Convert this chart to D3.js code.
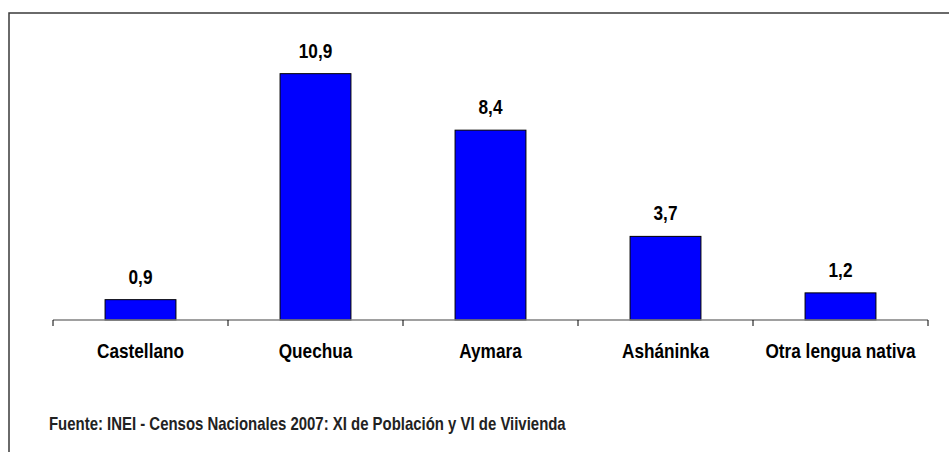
<!DOCTYPE html>
<html>
<head>
<meta charset="utf-8">
<script src="https://cdn.jsdelivr.net/npm/d3@7"></script>
<style>
  body { margin: 0; background: #fff; }
  text { font-family: "Liberation Sans Narrow", "Arial Narrow", "Liberation Sans", sans-serif; font-weight: bold; fill: #000; }
</style>
</head>
<body>
<svg id="chart" width="949" height="452"></svg>
<script>
// datos
var categorias = ["Castellano", "Quechua", "Aymara", "Asháninka", "Otra lengua nativa"];
var valores = [0.9, 10.9, 8.4, 3.7, 1.2];
var etiquetas = ["0,9", "10,9", "8,4", "3,7", "1,2"];
var fuente = "Fuente: INEI - Censos Nacionales 2007: XI de Población y VI de Viivienda";

// no hay Arial Narrow: se estrecha la letra a mano
var estrecho = 0.82;

var svg = d3.select("#chart");

// marco (solo arriba e izquierda)
svg.append("path")
  .attr("d", "M9,452 V13 H949")
  .attr("fill", "none")
  .attr("stroke", "#3a3a3a")
  .attr("stroke-width", 1.5);

var x = d3.scaleBand().domain(categorias).range([53, 928]).padding(0);
var y = d3.scaleLinear().domain([0, 12]).range([320, 320 - 12 * 22.6]);

var anchoBarra = x.bandwidth() * 0.405;

var g = svg.append("g");

g.selectAll("rect")
  .data(valores)
  .enter()
  .append("rect")
    .attr("x", function(d, i) { return x(categorias[i]) + (x.bandwidth() - anchoBarra) / 2; })
    .attr("y", function(d) { return y(d); })
    .attr("width", anchoBarra)
    .attr("height", function(d) { return y(0) - y(d); })
    .attr("fill", "#0000ff")
    .attr("stroke", "#000")
    .attr("stroke-width", 1);

// eje horizontal
g.append("line")
  .attr("x1", x.range()[0]).attr("x2", x.range()[1])
  .attr("y1", y(0)).attr("y2", y(0))
  .attr("stroke", "#808080")
  .attr("stroke-width", 1.5);

var bordes = categorias.map(function(c) { return x(c); }).concat([x.range()[1]]);
g.selectAll(".tick")
  .data(bordes)
  .enter()
  .append("line")
    .attr("class", "tick")
    .attr("x1", function(d) { return d; })
    .attr("x2", function(d) { return d; })
    .attr("y1", y(0))
    .attr("y2", y(0) + 6)
    .attr("stroke", "#000")
    .attr("stroke-width", 1);

g.selectAll(".valor")
  .data(valores)
  .enter()
  .append("text")
    .attr("class", "valor")
    .attr("transform", function(d, i) {
      return "translate(" + (x(categorias[i]) + x.bandwidth() / 2) + "," + (y(d) - 16) + ") scale(" + estrecho + ",1)";
    })
    .attr("text-anchor", "middle")
    .style("font-size", "21px")
    .text(function(d, i) { return etiquetas[i]; });

g.selectAll(".cat")
  .data(categorias)
  .enter()
  .append("text")
    .attr("class", "cat")
    .attr("transform", function(d) {
      return "translate(" + (x(d) + x.bandwidth() / 2) + ",358) scale(" + estrecho + ",1)";
    })
    .attr("text-anchor", "middle")
    .style("font-size", "21px")
    .text(function(d) { return d; });

svg.append("text")
  .attr("transform", "translate(49,430) scale(0.83,1)")
  .style("font-size", "18px")
  .style("fill", "#222")
  .text(fuente);
</script>
</body>
</html>
